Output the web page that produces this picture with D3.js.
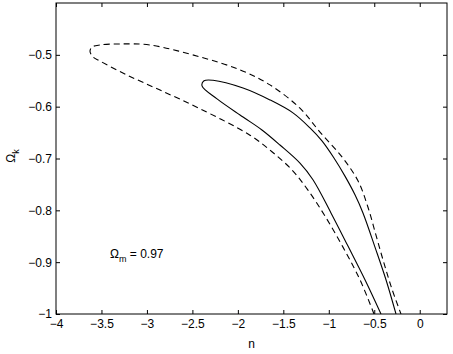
<!DOCTYPE html>
<html>
<head>
<meta charset="utf-8">
<script src="https://cdn.jsdelivr.net/npm/d3@7"></script>
<style>
  body { margin: 0; background: white; }
  text { font-family: "Liberation Sans", Arial, Helvetica, sans-serif; }
</style>
</head>
<body>
<div id="chart"></div>
<script>
// contour data (n, Omega_k)
// dashed outer contour, from bottom of lower branch, round the tip, to bottom of upper branch
const outerN = [-0.503, -0.657, -0.844, -1.042, -1.229, -1.405, -1.625, -1.867, -2.416, -2.856, -3.219, -3.516, -3.593, -3.626,
                -3.604, -3.516, -3.296, -2.966, -2.416, -1.976, -1.647, -1.317, -1.097, -0.855, -0.679, -0.569, -0.481, -0.393, -0.305, -0.206];
const outerK = [-1.0, -0.934, -0.871, -0.811, -0.761, -0.722, -0.687, -0.655, -0.604, -0.568, -0.539, -0.512, -0.504, -0.493,
                -0.485, -0.481, -0.479, -0.481, -0.504, -0.529, -0.558, -0.603, -0.649, -0.697, -0.743, -0.794, -0.848, -0.902, -0.952, -1.0];

// solid inner contour
const innerN = [-0.426, -0.602, -0.789, -0.976, -1.174, -1.317, -1.537, -1.735, -1.943, -2.229, -2.394,
                -2.372, -2.273, -1.943, -1.647, -1.394, -1.207, -1.075, -0.943, -0.822, -0.712, -0.624, -0.492, -0.371, -0.261];
const innerK = [-1.0, -0.934, -0.869, -0.805, -0.741, -0.709, -0.674, -0.645, -0.620, -0.585, -0.560,
                -0.550, -0.549, -0.564, -0.587, -0.612, -0.641, -0.666, -0.699, -0.734, -0.770, -0.805, -0.871, -0.934, -1.0];

const xTicks = [-4, -3.5, -3, -2.5, -2, -1.5, -1, -0.5, 0];
const yTicks = [-1, -0.9, -0.8, -0.7, -0.6, -0.5];

// Set up SVG dimensions
const w = 453;
const h = 354;
const margin = {top: 3, right: 6, bottom: 40, left: 56};

const svg = d3.select("#chart")
  .append("svg")
  .attr("width", w)
  .attr("height", h)
  .style("background-color", "white");

const xScale = d3.scaleLinear()
  .domain([-4, 0.3])
  .range([margin.left, w - margin.right]);

const yScale = d3.scaleLinear()
  .domain([-1, -0.4])
  .range([h - margin.bottom, margin.top]);

const fmt = d3.format("");

// clip for the contours
svg.append("clipPath")
  .attr("id", "plotClip")
  .append("rect")
  .attr("x", margin.left)
  .attr("y", margin.top)
  .attr("width", w - margin.right - margin.left)
  .attr("height", h - margin.bottom - margin.top);

// axes, ticks pointing inward like matlab
const xAxis = d3.axisBottom(xScale).tickValues(xTicks).tickSize(-4).tickPadding(5.5).tickFormat(fmt);
const yAxis = d3.axisLeft(yScale).tickValues(yTicks).tickSize(-4).tickPadding(4).tickFormat(fmt);
const xTop = d3.axisTop(xScale).tickValues(xTicks).tickSize(-4).tickFormat("");
const yRight = d3.axisRight(yScale).tickValues(yTicks).tickSize(-4).tickFormat("");

function styleAxis(g) {
  g.select(".domain").remove();
  g.selectAll("line").attr("stroke", "#000");
  g.selectAll("text").attr("fill", "#000").style("font-size", "12px");
}

svg.append("g")
  .attr("transform", "translate(0," + (h - margin.bottom) + ")")
  .call(xAxis)
  .call(styleAxis);

svg.append("g")
  .attr("transform", "translate(" + margin.left + ",0)")
  .call(yAxis)
  .call(styleAxis);

svg.append("g")
  .attr("transform", "translate(0," + margin.top + ")")
  .call(xTop)
  .call(styleAxis);

svg.append("g")
  .attr("transform", "translate(" + (w - margin.right) + ",0)")
  .call(yRight)
  .call(styleAxis);

// box
svg.append("rect")
  .attr("x", margin.left)
  .attr("y", margin.top)
  .attr("width", w - margin.right - margin.left)
  .attr("height", h - margin.bottom - margin.top)
  .attr("fill", "none")
  .attr("stroke", "#000")
  .attr("stroke-width", 1);

const line = d3.line()
  .x((d) => xScale(d[0]))
  .y((d) => yScale(d[1]))
  .curve(d3.curveCatmullRom.alpha(0.5));

const plot = svg.append("g").attr("clip-path", "url(#plotClip)");

plot.append("path")
  .datum(d3.zip(outerN, outerK))
  .attr("d", line)
  .attr("fill", "none")
  .attr("stroke", "#000")
  .attr("stroke-width", 1.1)
  .attr("stroke-dasharray", "6,4");

plot.append("path")
  .datum(d3.zip(innerN, innerK))
  .attr("d", line)
  .attr("fill", "none")
  .attr("stroke", "#000")
  .attr("stroke-width", 1.1);

// annotation
const note = svg.append("text")
  .attr("x", xScale(-3.406))
  .attr("y", yScale(-0.892))
  .attr("fill", "#000")
  .style("font-size", "12px");
note.append("tspan").text("Ω");
note.append("tspan").attr("dy", 4).style("font-size", "9px").text("m");
note.append("tspan").attr("dy", -4).text(" = 0.97");

// X-axis label
svg.append("text")
  .attr("x", (margin.left + w - margin.right) / 2)
  .attr("y", 348)
  .attr("text-anchor", "middle")
  .attr("fill", "#000")
  .style("font-size", "12px")
  .text("n");

// Y-axis label
const ylab = svg.append("text")
  .attr("transform", "translate(15,156) rotate(-90)")
  .attr("text-anchor", "middle")
  .attr("fill", "#000")
  .style("font-size", "12px");
ylab.append("tspan").text("Ω");
ylab.append("tspan").attr("dy", 4).style("font-size", "9px").text("k");
</script>
</body>
</html>
